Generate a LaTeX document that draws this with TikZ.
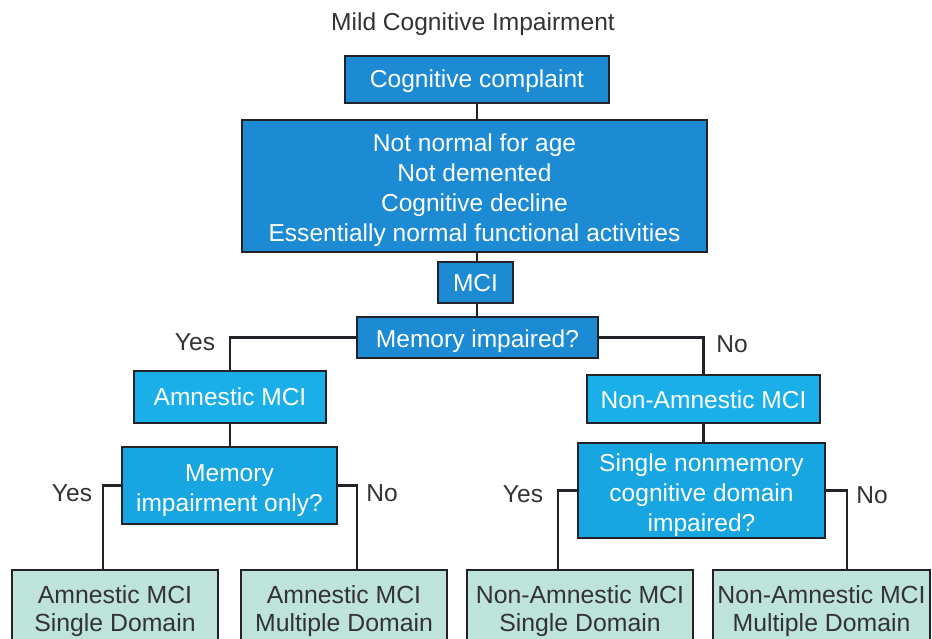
\documentclass[tikz,border=0pt]{standalone}
\usepackage{fontspec}
\setmainfont{Liberation Sans}
\usetikzlibrary{calc}
\definecolor{darkblue}{HTML}{1C8BD4}
\definecolor{cyanbox}{HTML}{1AAFE8}
\definecolor{qbox}{HTML}{17A6E2}
\definecolor{leafbox}{HTML}{BEE3DB}
\definecolor{edge}{HTML}{222228}
\definecolor{lbl}{HTML}{333333}
\begin{document}
\begin{tikzpicture}[x=0.75pt,y=-0.75pt,
  every node/.style={font=\fontsize{18.4}{22.5}\selectfont, inner sep=0pt},
  wh/.style 2 args={minimum width={0.75*#1}, minimum height={0.75*#2}},
  wt/.style 2 args={label={[text=white, align=center, inner sep=0pt, yshift={-0.75*#1}]center:{#2}}},
  dt/.style 2 args={label={[text=lbl, align=center, inner sep=0pt, font=\fontsize{18.6}{21}\selectfont, yshift={-0.75*#1}]center:{#2}}},
  boxa/.style={draw=edge, line width=2pt, fill=darkblue},
  boxb/.style={draw=edge, line width=2pt, fill=cyanbox},
  boxq/.style={draw=edge, line width=2pt, fill=qbox},
  leaf/.style={draw=edge, line width=2pt, fill=leafbox},
  conn/.style={draw=edge, line width=2.2pt},
  lab/.style={text=lbl}]
\path[use as bounding box] (0,0) rectangle (932,639);
\clip (0,0) rectangle (932,639);
\fill[white] (0,0) rectangle (932,639);

\node[text=lbl] (title) at (473,24) {Mild Cognitive Impairment};

\node[boxa, wh={264}{47}, wt={2}{Cognitive complaint}] (cc) at (477,79.5) {};
\node[boxa, wh={465}{132}, wt={4}{Not normal for age\\Not demented\\Cognitive decline\\Essentially normal functional activities}] (big) at (474.5,186) {};
\node[boxa, wh={75}{41}, wt={1}{MCI}] (mci) at (475.5,282.5) {};
\node[boxa, wh={241}{41}, wt={4}{Memory impaired?}] (mem) at (477.5,337.5) {};

\node[boxb, wh={192}{52}, wt={0}{Amnestic MCI}] (amn) at (230,397) {};
\node[boxb, wh={233}{48}, wt={1}{Non-Amnestic MCI}] (non) at (703.5,399) {};

\node[boxq, wh={215}{77}, wt={5}{Memory\\impairment only?}] (mio) at (229.5,485.5) {};
\node[boxq, wh={247}{95}, wt={5}{Single nonmemory\\cognitive domain\\impaired?}] (snm) at (701.5,490.5) {};

\node[leaf, wh={206}{78}, dt={2}{Amnestic MCI\\Single Domain}] (b1) at (115,609) {};
\node[leaf, wh={206}{78}, dt={2}{Amnestic MCI\\Multiple Domain}] (b2) at (344,609) {};
\node[leaf, wh={226}{78}, dt={2}{Non-Amnestic MCI\\Single Domain}] (b3) at (580,609) {};
\node[leaf, wh={217}{78}, dt={2}{Non-Amnestic MCI\\Multiple Domain}] (b4) at (821.5,609) {};

% connectors
\draw[conn] (cc.south -| 477,0) -- (big.north -| 477,0);
\draw[conn] (big.south -| 477,0) -- (mci.north -| 477,0);
\draw[conn] (mci.south -| 477,0) -- (mem.north -| 477,0);
\draw[conn] (mem.west) -| (amn.north);
\draw[conn] (mem.east) -| (non.north);
\draw[conn] (amn.south) -- (amn.south |- mio.north);
\draw[conn] (non.south) -- (non.south |- snm.north);
\draw[conn] (mio.west) -| ($(b1.north)+(-12,0)$);
\draw[conn] (mio.east) -| ($(b2.north)+(13,0)$);
\draw[conn] (snm.west) -| ($(b3.north)+(-22,0)$);
\draw[conn] (snm.east) -| ($(b4.north)+(25.5,0)$);

% labels
\node[lab] (l1) at (195,342) {Yes};
\node[lab] (l2) at (732,344) {No};
\node[lab] (l3) at (72,493) {Yes};
\node[lab] (l4) at (382,493) {No};
\node[lab] (l5) at (523,494) {Yes};
\node[lab] (l6) at (872,495) {No};
\end{tikzpicture}
\end{document}
